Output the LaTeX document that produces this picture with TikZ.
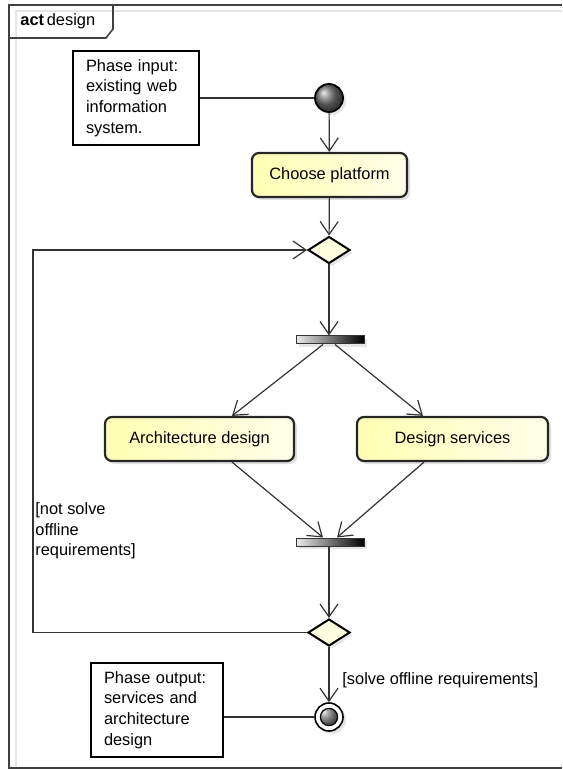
\documentclass[tikz,border=0pt]{standalone}
\usepackage{fontspec}
\setmainfont{Liberation Sans}
\usetikzlibrary{arrows.meta,shapes.geometric,shadows}
\tikzset{
  action/.style={draw=black!85, line width=1.1pt, rounded corners=3.5pt, left color=yellow!30, right color=yellow!8,
    minimum height=22pt, drop shadow={shadow xshift=1.5pt, shadow yshift=-1.5pt, opacity=0.25}},
  note/.style={draw=black, line width=1.4pt, fill=white, align=left, inner xsep=6.5pt, inner ysep=0pt},
  bar/.style={draw=black!80, line width=0.5pt, left color=gray!15, right color=black, minimum width=34pt,
    minimum height=4pt, inner sep=0pt, drop shadow={shadow xshift=1.5pt, shadow yshift=-1.5pt, opacity=0.2}},
  decision/.style={diamond, draw=black, line width=1pt, fill=yellow!12, minimum width=21pt, minimum height=13.5pt,
    inner sep=0pt, drop shadow={shadow xshift=1.5pt, shadow yshift=-1.5pt, opacity=0.2}},
  start/.style={circle, draw=black, line width=0.9pt, ball color=black!55, minimum size=14pt, inner sep=0pt,
    drop shadow={shadow xshift=1.5pt, shadow yshift=-1.5pt, opacity=0.2}},
  stop/.style={circle, draw=black, line width=0.8pt, fill=white, minimum size=14pt, inner sep=0pt,
    drop shadow={shadow xshift=1.5pt, shadow yshift=-1.5pt, opacity=0.2},
    path picture={\shade[ball color=black!55, draw=black, line width=0.6pt] (path picture bounding box.center) circle (4.3pt);}},
  guard/.style={align=left, inner sep=0pt, anchor=west},
  flow/.style={draw=black!80, line width=0.6pt, -{Straight Barb[length=6.5pt,width=9pt]}},
  link/.style={draw=black!80, line width=0.6pt}
}
\begin{document}
\begin{tikzpicture}[x=0.5pt, y=-0.5pt, font=\fontsize{8.2}{10.3}\selectfont]
  \useasboundingbox (0,0) rectangle (562,769);
  \draw[gray!20, line width=0.8pt] (562,11) -- (16,11) -- (16,769);
  \draw[black!75, line width=0.9pt] (562,5) -- (9,5) -- (9,768) -- (562,768);
  \draw[black!75, line width=0.8pt] (9,38) -- (106,38) -- (113,29) -- (113,5);
  \path
    (20,21) node[anchor=west, inner sep=0pt] (title) {\textbf{act}\,design}
    (136,98) node[note, text width=50pt, minimum height=47pt] (input)
      {Phase input:\\existing web\\information\\system.}
    (329,98) node[start] (init) {}
    (329.5,175) node[action, minimum width=77.5pt] (choose) {Choose platform}
    (329,250) node[decision] (merge) {}
    (330,340) node[bar] (fork) {}
    (199.5,439) node[action, minimum width=94.5pt] (arch) {Architecture design}
    (452.5,439) node[action, minimum width=95.5pt] (serv) {Design services}
    (330,542) node[bar] (join) {}
    (329,632.5) node[decision] (branch) {}
    (329,717) node[stop] (final) {}
    (157,710) node[note, text width=53pt, minimum height=47pt] (output)
      {Phase output:\\services and\\architecture\\design}
    (35,531) node[guard] (notsolve) {[not solve\\offline\\requirements]}
    (342,680) node[guard] (solve) {[solve offline requirements]};
  \coordinate (back) at (33,440);
  \begin{scope}[flow]
    \draw[link, -] (input.east) -- (init);
    \draw (init) -- (choose);
    \draw (choose) -- (merge);
    \draw (merge) -- ([xshift=-0.5pt]fork.north);
    \draw ([xshift=-3.5pt]fork.south) -- ([xshift=16.25pt]arch.north);
    \draw ([xshift=2.5pt]fork.south) -- ([xshift=-14.75pt]serv.north);
    \draw ([xshift=16.25pt]arch.south) -- ([xshift=-3.5pt]join.north);
    \draw ([xshift=-14.25pt]serv.south) -- ([xshift=3.5pt]join.north);
    \draw ([xshift=-0.5pt]join.south) -- (branch);
    \draw (branch.west) -| (back) |- (merge.west);
    \draw (branch) -- (final);
    \draw[link, -] (output.east |- final) -- (final);
  \end{scope}
\end{tikzpicture}
\end{document}
